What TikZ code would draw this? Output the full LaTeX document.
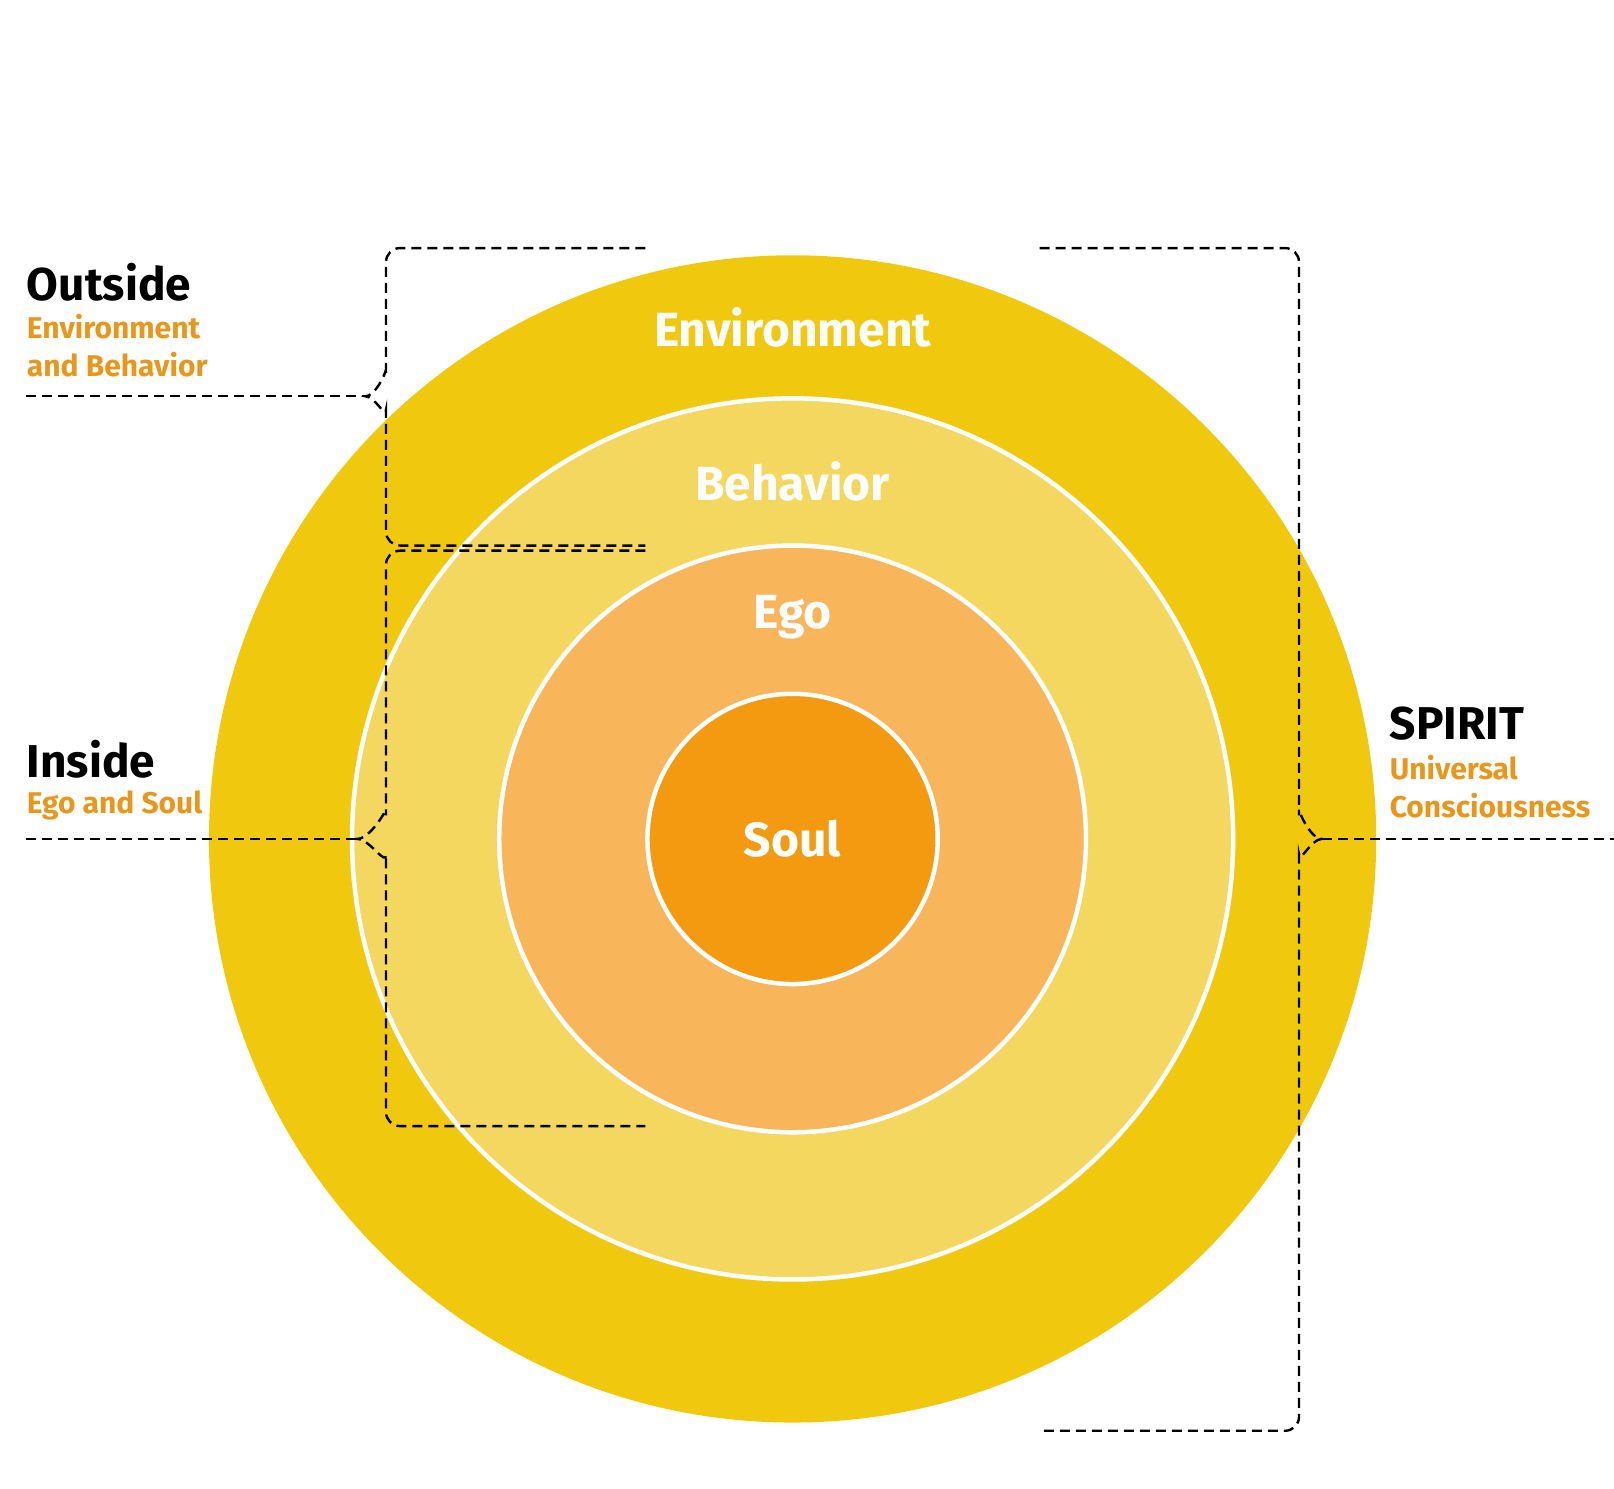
\documentclass[tikz,border=0pt]{standalone}
\usepackage{fontspec}
\setmainfont{Fira Sans}
\begin{document}
\begin{tikzpicture}[x=1.0293pt,y=-1.0293pt,
  ring/.style={draw=white,line width=4.5pt},
  lbl/.style={text=white,font=\fontsize{48}{52}\selectfont\bfseries},
  head/.style={anchor=west,font=\fontsize{46}{50}\selectfont\bfseries,inner sep=0},
  sub/.style={anchor=west,align=left,text=orng,font=\fontsize{30}{38}\selectfont\bfseries,inner sep=0},
  br/.style={dashed,line width=2.4pt,dash pattern=on 10pt off 6pt,rounded corners=14pt}]
\definecolor{c1}{HTML}{F0C90F}
\definecolor{c2}{HTML}{F4D75E}
\definecolor{c3}{HTML}{F8B55A}
\definecolor{c4}{HTML}{F39A10}
\definecolor{orng}{HTML}{E8961C}
\useasboundingbox (0,0) rectangle (1568,1445.6);
\coordinate (c) at (770,815);
\fill[c1] (c) circle (567);
\fill[c2] (c) circle (428);
\draw[ring] (c) circle (428);
\fill[c3] (c) circle (285);
\draw[ring] (c) circle (285);
\fill[c4] (c) circle (141);
\draw[ring] (c) circle (141);
\node[lbl] (env) at (770,318) {Environment};
\node[lbl] (beh) at (770,468) {Behavior};
\node[lbl] (ego) at (770,600) {Ego};
\node[lbl] (soul) at (770,815) {Soul};
% left top brace
\draw[br] (627,241) -- (375,241) -- (375,372) to[out=90,in=0,rounded corners=0] (355,385)
  to[out=0,in=-90,rounded corners=0] (375,398) -- (375,530) -- (627,530);
\draw[br,rounded corners=0] (25,385) -- (355,385);
% left bottom brace
\draw[br] (627,535) -- (375,535) -- (375,800) to[out=90,in=0,rounded corners=0] (347,815)
  to[out=0,in=-90,rounded corners=0] (375,830) -- (375,1094) -- (627,1094);
\draw[br,rounded corners=0] (25,815) -- (347,815);
% right brace
\draw[br] (1010,241) -- (1262,241) -- (1262,800) to[out=90,in=180,rounded corners=0] (1284,815)
  to[out=180,in=-90,rounded corners=0] (1262,830) -- (1262,1390) -- (1010,1390);
\draw[br,rounded corners=0] (1284,815) -- (1568,815);
% side texts
\node[head] (out) at (26,274) {Outside};
\node[sub] (outs) at (26,336) {Environment\\and Behavior};
\node[head] (ins) at (26,738) {Inside};
\node[sub] (inss) at (26,782) {Ego and Soul};
\node[head] (sp) at (1350,703) {SPIRIT};
\node[sub] (sps) at (1350,764) {Universal\\Consciousness};
\end{tikzpicture}
\end{document}
